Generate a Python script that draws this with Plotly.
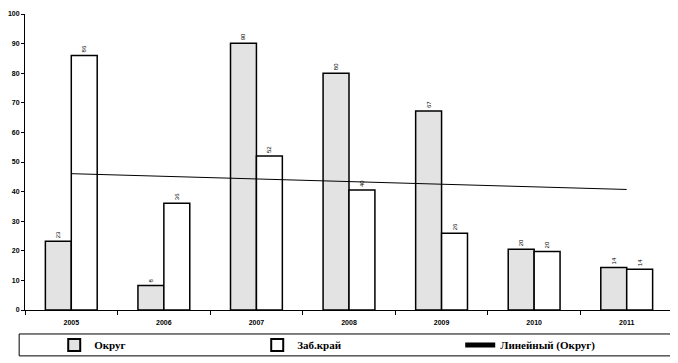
import numpy as np
import plotly.graph_objects as go

years = ["2005", "2006", "2007", "2008", "2009", "2010", "2011"]
okrug = [23.2, 8.3, 90.1, 80.0, 67.2, 20.5, 14.4]
zab_krai = [86.0, 36.1, 52.0, 40.5, 25.9, 19.8, 13.8]
y_ticks = [0, 10, 20, 30, 40, 50, 60, 70, 80, 90, 100]

# linear trend of "Округ"
xi = np.arange(1, len(okrug) + 1)
k, b = np.polyfit(xi, okrug, 1)
trend = (k * xi + b).tolist()

tick_font = dict(family="Liberation Sans Narrow, Liberation Sans, Arial", size=7, color="black", weight="bold")
label_font = dict(family="Liberation Sans Narrow, Liberation Sans", size=6, color="black")

fig = go.Figure()
fig.add_trace(go.Bar(
    x=years, y=okrug, name="Округ",
    marker=dict(color="#e3e3e3", line=dict(color="black", width=1.5)),
    text=[f"{v:.0f}" for v in okrug], textposition="outside", textangle=-90,
    textfont=label_font, cliponaxis=False,
))
fig.add_trace(go.Bar(
    x=years, y=zab_krai, name="Заб.край",
    marker=dict(color="white", line=dict(color="black", width=1.5)),
    text=[f"{v:.0f}" for v in zab_krai], textposition="outside", textangle=-90,
    textfont=label_font, cliponaxis=False,
))
fig.add_trace(go.Scatter(
    x=years, y=trend, name="Линейный (Округ)", mode="lines",
    line=dict(color="black", width=1),
))

fig.update_layout(
    width=670, height=355,
    margin=dict(l=17, r=5, t=6, b=53, autoexpand=False),
    paper_bgcolor="white", plot_bgcolor="white",
    barmode="group", bargap=0.44, bargroupgap=0,
    showlegend=True,
    legend=dict(
        orientation="h", x=0.515, xanchor="center", y=-0.118, yanchor="middle",
        font=dict(family="Liberation Serif, Times New Roman", size=11, color="black", weight="bold"),
        bgcolor="rgba(0,0,0,0)", entrywidth=158, traceorder="normal",
        itemsizing="constant",
    ),
    uniformtext=dict(minsize=6, mode="show"),
    shapes=[dict(
        type="rect", xref="paper", yref="paper",
        x0=-0.009, x1=1.005, y0=-0.155, y1=-0.081,
        line=dict(color="black", width=1), fillcolor="rgba(0,0,0,0)",
    )],
)
fig.update_xaxes(
    type="category", showline=True, linecolor="black", linewidth=1,
    ticks="outside", tickson="boundaries", ticklen=4, tickcolor="black",
    tickfont=tick_font, showgrid=False, zeroline=False, automargin=False,
    ticklabelstandoff=6,
)
fig.update_yaxes(
    range=[0, 100], tickvals=y_ticks, showline=True, linecolor="black", linewidth=1,
    ticks="outside", ticklen=3, tickcolor="black", tickfont=tick_font,
    showgrid=False, zeroline=False, automargin=False,
)

fig.write_html("out.html")
